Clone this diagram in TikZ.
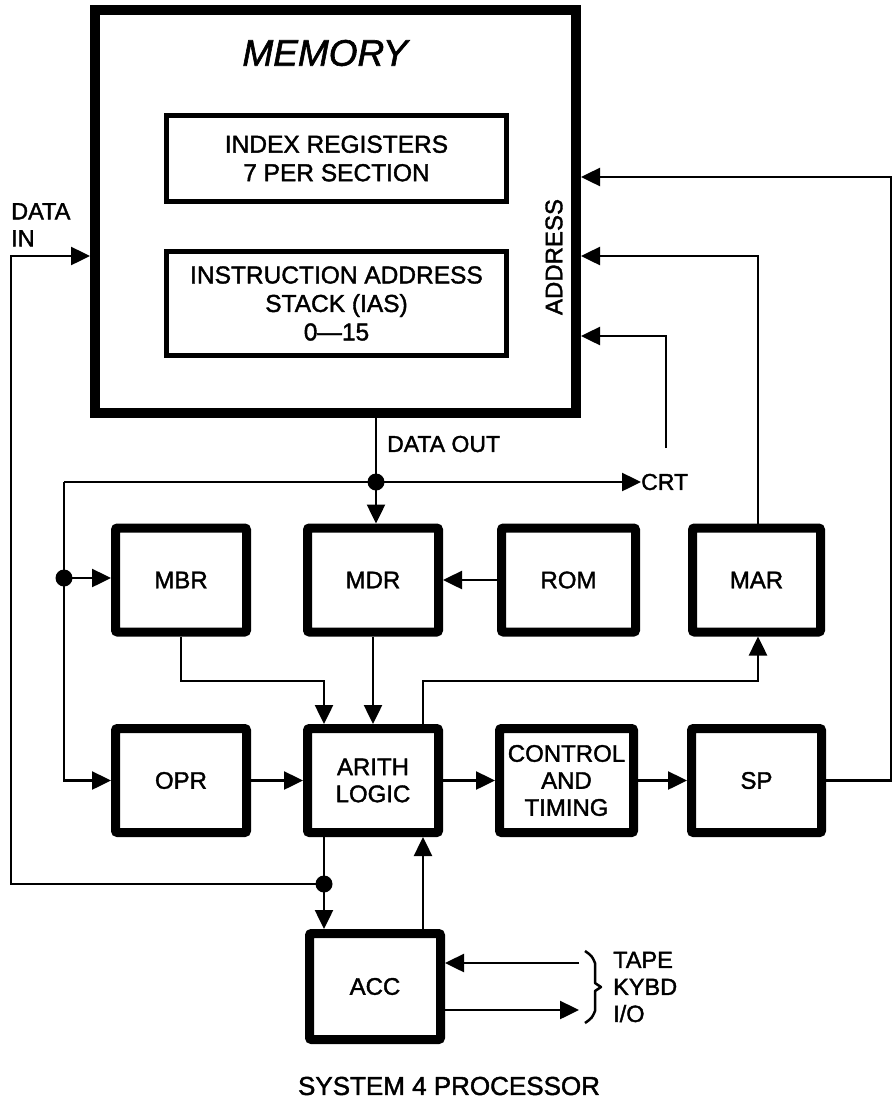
\documentclass[tikz,border=0pt]{standalone}
\usepackage{fontspec}
\setmainfont{Liberation Sans}[BoldFont={Liberation Sans}, BoldFeatures={FakeBold=1.6}, BoldItalicFont={Liberation Sans Italic}, BoldItalicFeatures={FakeBold=1.6}]
\usetikzlibrary{arrows.meta}
\tikzset{
  blk/.style={draw, line width=9pt, rounded corners=2pt, inner sep=0pt, minimum width=131pt, minimum height=104pt, align=center, font=\fontsize{24}{27}\selectfont\bfseries},
  membox/.style={draw, line width=10pt, inner sep=0pt, minimum width=481pt, minimum height=403pt},
  ibox/.style={draw, line width=5pt, inner sep=0pt, minimum width=340pt, align=center, font=\fontsize{24.5}{28.5}\selectfont\bfseries},
  conn/.style={line width=2.5pt},
  arr/.style={line width=2.5pt, -{Triangle[length=19pt,width=18pt]}},
  dot/.style={circle, fill, inner sep=0pt, minimum size=17pt},
  lab/.style={font=\fontsize{23}{27}\selectfont\bfseries, inner sep=0pt}
}
\begin{document}
\begin{tikzpicture}[x=1pt,y=-1pt]
\useasboundingbox (0,0) rectangle (894,1101);
% memory
\node[membox] (mem) at (335.5,211.5) {};
\node[font=\fontsize{37}{40}\selectfont\bfseries\itshape, inner sep=0pt] (memt) at (325,53) {MEMORY};
\node[ibox, minimum height=86pt] (idx) at (336.5,158.5) {INDEX REGISTERS\\7 PER SECTION};
\node[ibox, minimum height=104pt] (ias) at (336.5,303.5) {INSTRUCTION ADDRESS\\STACK (IAS)\\0—15};
\node[lab, rotate=90, font=\fontsize{24}{27}\selectfont\bfseries] (addr) at (554,257) {ADDRESS};
\node[lab, anchor=north west, align=left, font=\fontsize{23.5}{27}\selectfont\bfseries] (din) at (11,203) {DATA\\IN};
% blocks
\node[blk] (mbr) at (181,580) {MBR};
\node[blk] (mdr) at (373,580) {MDR};
\node[blk, minimum width=134pt] (rom) at (568.5,580) {ROM};
\node[blk, minimum width=128pt] (mar) at (756.5,580) {MAR};
\node[blk] (opr) at (181,780.5) {OPR};
\node[blk] (arith) at (373,780.5) {ARITH\\LOGIC};
\node[blk, minimum width=134pt] (ctrl) at (566.5,780.5) {CONTROL\\AND\\TIMING};
\node[blk, minimum width=130pt] (sp) at (756.5,780.5) {SP};
\node[blk, minimum width=131pt, minimum height=106pt] (acc) at (375,986.5) {ACC};
% labels
\node[lab, anchor=west] (dout) at (387,444) {DATA OUT};
\node[lab, anchor=west] (crt) at (641,482) {CRT};
\node[lab, anchor=west, align=left, font=\fontsize{23.5}{27}\selectfont\bfseries] (io) at (613,987) {TAPE\\KYBD\\I/O};
\node[font=\fontsize{26}{30}\selectfont\bfseries, inner sep=0pt] (title) at (449,1086) {SYSTEM 4 PROCESSOR};
% coordinates
\coordinate (d1) at (376,482);
\coordinate (d2) at (64,578);
\coordinate (d3) at (324,884);
\coordinate (cL) at (64,482);
\coordinate (j2) at (324,681);
\coordinate (j3) at (423,681);
\coordinate (j4) at (758,681);
\coordinate (a1) at (891,177);
\coordinate (a2) at (758,256);
\coordinate (a3) at (666,336);
\coordinate (a3e) at (666,448);
\coordinate (di1) at (11,884);
\coordinate (di2) at (11,256);
\coordinate (t1) at (579,963);
\coordinate (t2) at (579,1010);
% connectors
\draw[conn] (d1 |- mem.south) -- (d1);
\draw[arr] (d1) -- (d1 |- mdr.north);
\draw[arr] (cL) -- (crt.west);
\draw[arr] (cL) |- (opr.west);
\draw[arr] (d2) -- (d2 -| mbr.west);
\draw[arr] (rom.west) -- (mdr.east);
\draw[arr] (mbr.south) |- (j2) -- (j2 |- arith.north);
\draw[arr] (mdr.south) -- (arith.north);
\draw[arr] (j3 |- arith.north) -- (j3) -- (j4) -- (j4 |- mar.south);
\draw[arr] (opr.east) -- (arith.west);
\draw[arr] (arith.east) -- (ctrl.west);
\draw[arr] (ctrl.east) -- (sp.west);
\draw[arr] (sp.east) -| (a1) -- (a1 -| mem.east);
\draw[arr] (a2 |- mar.north) -- (a2) -- (a2 -| mem.east);
\draw[arr] (a3e) -- (a3) -- (a3 -| mem.east);
\draw[conn] (d3 |- arith.south) -- (d3);
\draw[arr] (d3) -- (d3 |- acc.north);
\draw[arr] (d3) -- (di1) -- (di2) -- (di2 -| mem.west);
\draw[arr] (j3 |- acc.north) -- (j3 |- arith.south);
\draw[arr] (t1) -- (t1 -| acc.east);
\draw[arr] (t2 -| acc.east) -- (t2);
\draw[line width=2.5pt, line join=round] (585,951) .. controls (592,956) .. (595,963) -- (595,983) -- (601,987) -- (595,991) -- (595,1011) .. controls (592,1018) .. (585,1023);
% dots
\node[dot] (n1) at (d1) {};
\node[dot] (n2) at (d2) {};
\node[dot] (n3) at (d3) {};
\end{tikzpicture}
\end{document}
